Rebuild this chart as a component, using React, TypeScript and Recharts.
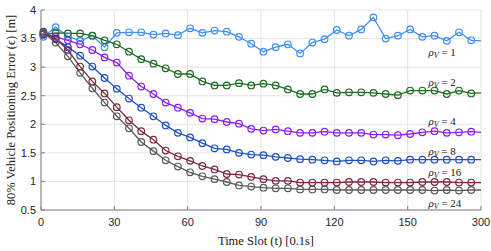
import React from "react";
import { LineChart, Line, XAxis, YAxis, CartesianGrid, ReferenceDot } from "recharts";

// time slot of each sample (markers on every one but the last)
const timeSlots = [
  1, 6, 11, 16, 21, 26, 31, 36, 41, 46, 51, 56, 61, 66, 71, 76, 81, 86, 91,
  96, 101, 106, 111, 116, 121, 126, 131, 136, 141, 146, 151, 156, 161, 166,
  171, 176, 180,
];

const rho1 = [
  3.53, 3.7, 3.54, 3.46, 3.55, 3.35, 3.6, 3.61, 3.61, 3.57, 3.59, 3.56,
  3.68, 3.6, 3.64, 3.62, 3.53, 3.41, 3.27, 3.35, 3.4, 3.24, 3.43, 3.49,
  3.65, 3.55, 3.66, 3.87, 3.5, 3.55, 3.66, 3.53, 3.55, 3.46, 3.61, 3.47,
  3.46,
];
const rho2 = [
  3.57, 3.6, 3.59, 3.59, 3.55, 3.47, 3.4, 3.27, 3.14, 3.06, 2.98, 2.88,
  2.88, 2.75, 2.68, 2.68, 2.72, 2.68, 2.71, 2.68, 2.61, 2.53, 2.53, 2.61,
  2.55, 2.56, 2.56, 2.55, 2.53, 2.51, 2.59, 2.59, 2.59, 2.53, 2.59, 2.54,
  2.55,
];
const rho4 = [
  3.58, 3.53, 3.47, 3.4, 3.3, 3.17, 3.08, 2.85, 2.66, 2.53, 2.38, 2.29,
  2.2, 2.1, 2.09, 2.04, 2.01, 1.92, 1.89, 1.91, 1.88, 1.85, 1.85, 1.87,
  1.85, 1.85, 1.85, 1.82, 1.82, 1.81, 1.83, 1.86, 1.88, 1.85, 1.86, 1.87,
  1.86,
];
const rho8 = [
  3.58, 3.49, 3.35, 3.2, 3.01, 2.81, 2.62, 2.45, 2.29, 2.14, 1.98, 1.85,
  1.77, 1.67, 1.58, 1.56, 1.5, 1.47, 1.46, 1.43, 1.41, 1.39, 1.38, 1.37,
  1.35, 1.37, 1.37, 1.35, 1.37, 1.36, 1.38, 1.38, 1.38, 1.38, 1.38, 1.38,
  1.38,
];
const rho16 = [
  3.62, 3.5, 3.3, 3.01, 2.75, 2.54, 2.3, 2.07, 1.88, 1.73, 1.54, 1.44,
  1.36, 1.27, 1.21, 1.13, 1.12, 1.08, 1.04, 1.01, 1.01, 0.98, 0.98, 0.98,
  0.98, 0.99, 0.99, 0.99, 0.98, 0.98, 0.98, 0.99, 0.99, 0.99, 0.98, 0.98,
  0.98,
];
const rho24 = [
  3.6, 3.43, 3.19, 2.9, 2.63, 2.38, 2.14, 1.93, 1.69, 1.53, 1.37, 1.26,
  1.16, 1.09, 1.04, 0.99, 0.93, 0.91, 0.89, 0.88, 0.88, 0.86, 0.86, 0.86,
  0.85, 0.85, 0.85, 0.85, 0.85, 0.85, 0.85, 0.85, 0.84, 0.85, 0.84, 0.85,
  0.85,
];

const xTicks = [0, 30, 60, 90, 120, 150, 180];
const xTickLabels = ["0", "30", "60", "90", "120", "150", "300"];
const yTicks = [0.5, 1, 1.5, 2, 2.5, 3, 3.5, 4];

const series = [
  { key: "r1", name: "1", values: rho1, color: "#3d8ff2", labelY: 3.27 },
  { key: "r2", name: "2", values: rho2, color: "#1e6b22", labelY: 2.74 },
  { key: "r4", name: "4", values: rho4, color: "#8a1ff2", labelY: 2.06 },
  { key: "r8", name: "8", values: rho8, color: "#1f4fc4", labelY: 1.53 },
  { key: "r16", name: "16", values: rho16, color: "#7a2a3a", labelY: 1.16 },
  { key: "r24", name: "24", values: rho24, color: "#5a5a5a", labelY: 0.62 },
];
const labelX = 158.5;

const data = timeSlots.map((t, i) => {
  const row: any = { t };
  series.forEach((s) => (row[s.key] = s.values[i]));
  return row;
});

const tickFont = { fontFamily: "Liberation Sans, Arial", fontSize: 11, fill: "#262626" };
const serif = "Liberation Serif, Times New Roman, serif";

function makeDot(color: string) {
  return (props: any) => {
    const { cx, cy, index } = props;
    if (index === timeSlots.length - 1) return <g key={`d${index}`} />;
    return (
      <circle key={`d${index}`} cx={cx} cy={cy} r={3.3} fill="none" stroke={color} strokeWidth={1.2} />
    );
  };
}

function RhoLabel({ cx, cy, n }: any) {
  return (
    <text x={cx} y={cy} dominantBaseline="central" fontFamily={serif} fontSize={11} fill="#222">
      <tspan fontStyle="italic">ρ</tspan>
      <tspan fontStyle="italic" fontSize={8} dy={3}>V</tspan>
      <tspan dy={-3}>{` = ${n}`}</tspan>
    </text>
  );
}

export default function App() {
  return (
    <div style={{ position: "absolute", left: 0, top: 0, background: "#fff" }}>
      <LineChart width={491} height={251} data={data} margin={{ top: 10, right: 10, left: 0, bottom: 0 }}>
        <CartesianGrid stroke="#e4e4e4" />
        <XAxis
          dataKey="t"
          type="number"
          domain={[0, 180]}
          ticks={xTicks}
          tickFormatter={(v) => xTickLabels[xTicks.indexOf(v)]}
          height={41}
          tick={tickFont}
          tickSize={-4}
          tickMargin={12}
          stroke="#808080"
          label={{
            content: ({ viewBox }: any) => (
              <text
                x={viewBox.x + viewBox.width / 2 + 5}
                y={viewBox.y + 31}
                textAnchor="middle"
                dominantBaseline="central"
                fontFamily={serif}
                fontSize={12.5}
                fill="#222"
              >
                Time Slot (t) [0.1s]
              </text>
            ),
          }}
        />
        <XAxis
          xAxisId="top"
          orientation="top"
          dataKey="t"
          type="number"
          domain={[0, 180]}
          ticks={xTicks}
          height={0}
          tick={false}
          tickSize={-4}
          stroke="#a8a8a8"
        />
        <YAxis
          domain={[0.5, 4]}
          ticks={yTicks}
          width={41}
          tick={tickFont}
          tickSize={-4}
          tickMargin={9}
          stroke="#808080"
          label={{
            content: ({ viewBox }: any) => {
              const x = 11;
              const y = viewBox.y + viewBox.height / 2;
              return (
                <text
                  x={x}
                  y={y}
                  transform={`rotate(-90 ${x} ${y})`}
                  textAnchor="middle"
                  dominantBaseline="central"
                  fontFamily={serif}
                  fontSize={12.5}
                  fill="#222"
                >
                  80% Vehicle Positioning Error (ϵ) [m]
                </text>
              );
            },
          }}
        />
        <YAxis
          yAxisId="right"
          orientation="right"
          domain={[0.5, 4]}
          ticks={yTicks}
          width={0}
          tick={false}
          tickSize={-4}
          stroke="#a8a8a8"
        />
        {series.map((s) => (
          <Line
            key={s.key}
            dataKey={s.key}
            stroke={s.color}
            strokeWidth={1.3}
            dot={makeDot(s.color)}
            isAnimationActive={false}
          />
        ))}
        {series.map((s) => (
          <ReferenceDot
            key={`lab-${s.key}`}
            x={labelX}
            y={s.labelY}
            r={0}
            shape={(p: any) => <RhoLabel cx={p.cx} cy={p.cy} n={s.name} />}
          />
        ))}
      </LineChart>
    </div>
  );
}
